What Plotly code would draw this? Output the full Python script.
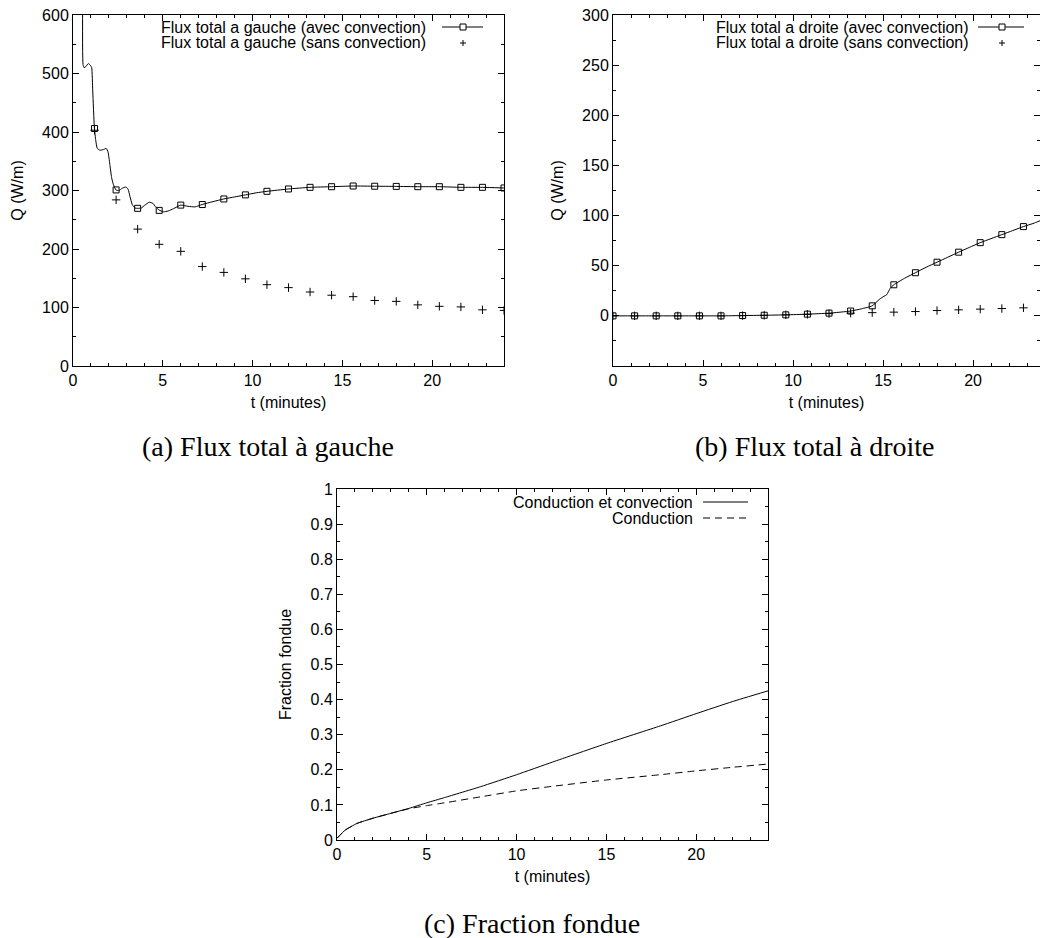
import plotly.graph_objects as go

# ---------------- data ----------------
# (a) Flux total a gauche, avec convection: continuous curve
t_left_curve = [0.54, 0.56, 0.62, 0.72, 0.85, 0.97, 1.04, 1.10, 1.19, 1.27, 1.35, 1.5, 1.7, 1.85,
                1.95, 2.05, 2.15, 2.25, 2.39, 2.55, 2.75, 2.95, 3.07, 3.17, 3.3, 3.45, 3.6, 3.8,
                4.0, 4.25, 4.45, 4.6, 4.79, 5.03, 5.3, 5.6, 6.0, 6.4, 6.8, 7.18, 7.8, 8.39, 9.0,
                9.6, 10.2, 10.8, 12.0, 13.2, 14.4, 15.6, 16.8, 18.0, 19.2, 20.4, 21.6, 22.8, 24.0]
q_left_curve = [650, 515, 510, 512, 517, 514, 510, 470, 407, 385, 372, 369, 370, 372,
                366, 345, 322, 310, 301, 300, 304, 306, 302, 290, 276, 270, 269.5, 270,
                275, 280, 278, 272, 266.7, 263.5, 265, 269, 275, 273, 272, 276, 281, 285.5, 289,
                292.5, 296, 298.6, 302.6, 305.4, 306.5, 307.7, 307.3, 307, 306.5, 306.5, 305.4, 305.4, 304.3]
# sample points (markers)
t_left_marks = [1.2, 2.4, 3.6, 4.8, 6.0, 7.2, 8.4, 9.6, 10.8, 12.0, 13.2, 14.4, 15.6, 16.8,
                18.0, 19.2, 20.4, 21.6, 22.8, 24.0]
q_left_avec = [406, 301, 269.5, 266, 275, 276, 285.5, 292.5, 298.6, 302.6, 305.4, 306.5, 307.7,
               307.3, 307, 306.5, 306.5, 305.4, 305.4, 304.3]
q_left_sans = [403, 284, 234, 208, 196, 170, 160, 149, 139, 134, 126.5, 121, 118.5, 112,
               110.5, 104.5, 102, 101, 96, 95]

# (b) Flux total a droite
t_right_curve = [0, 1.2, 2.4, 3.6, 4.8, 6.0, 7.2, 8.4, 9.6, 10.8, 12.0, 13.2, 13.8, 14.4, 14.8,
                 15.05, 15.2, 15.4, 15.6, 16.2, 16.8, 17.4, 18.0, 18.6, 19.2, 19.8, 20.4, 21.0,
                 21.6, 22.2, 22.8, 23.4, 24.0]
q_right_curve = [0, 0, 0, 0, 0, 0, 0.3, 0.6, 1.0, 1.7, 2.7, 4.8, 7, 10, 16.5,
                 19.5, 21, 27.5, 31, 37.5, 43, 48.5, 53.5, 58.5, 63.5, 68.3, 73, 77,
                 81, 85, 89, 92.5, 97]
t_right_marks = [0, 1.2, 2.4, 3.6, 4.8, 6.0, 7.2, 8.4, 9.6, 10.8, 12.0, 13.2, 14.4, 15.6, 16.8,
                 18.0, 19.2, 20.4, 21.6, 22.8, 24.0]
q_right_avec = [0, 0, 0, 0, 0, 0, 0.3, 0.6, 1.0, 1.7, 2.7, 4.8, 10, 31, 43,
                53.5, 63.5, 73, 81, 89, 97]
q_right_sans = [0, 0, 0, 0, 0, 0, 0.2, 0.5, 1.0, 1.5, 2.2, 2.7, 3.2, 3.7, 4.3,
                5.3, 6.0, 6.7, 7.3, 8.0, 8.6]

# (c) Fraction fondue
t_frac = [0, 0.45, 1.1, 2, 3, 4, 5, 6, 8, 10, 12, 15, 18, 20, 22, 24]
frac_conv = [0.005, 0.028, 0.047, 0.062, 0.076, 0.090, 0.106, 0.121, 0.152, 0.186, 0.222,
             0.275, 0.325, 0.360, 0.394, 0.425]
frac_cond = [0.005, 0.028, 0.047, 0.062, 0.076, 0.089, 0.098, 0.106, 0.123, 0.140, 0.153,
             0.171, 0.186, 0.197, 0.207, 0.2165]

# ---------------- figure ----------------
W, H = 1040, 938
FONT = "Liberation Sans, Arial, Helvetica, sans-serif"
SERIF = "Liberation Serif, Times New Roman, serif"


def px(x):
    return x / W


def py(y):
    return 1 - y / H


fig = go.Figure()

sq = dict(symbol="square-open", size=6, color="black", line=dict(width=1, color="black"))
plus = dict(symbol="cross-thin", size=6, color="black", line=dict(width=1, color="black"))

# (a)
fig.add_trace(go.Scatter(x=t_left_curve, y=q_left_curve, mode="lines",
                         line=dict(color="black", width=1, shape="spline", smoothing=0.5),
                         xaxis="x", yaxis="y", showlegend=False, name="Flux total a gauche (avec convection)"))
fig.add_trace(go.Scatter(x=t_left_marks, y=q_left_avec, mode="markers", marker=sq,
                         xaxis="x", yaxis="y", showlegend=False))
fig.add_trace(go.Scatter(x=t_left_marks, y=q_left_sans, mode="markers", marker=plus,
                         xaxis="x", yaxis="y", showlegend=False, name="Flux total a gauche (sans convection)"))
# (b)
fig.add_trace(go.Scatter(x=t_right_curve, y=q_right_curve, mode="lines",
                         line=dict(color="black", width=1, shape="spline", smoothing=0.5),
                         xaxis="x2", yaxis="y2", showlegend=False, name="Flux total a droite (avec convection)"))
fig.add_trace(go.Scatter(x=t_right_marks, y=q_right_avec, mode="markers", marker=sq,
                         xaxis="x2", yaxis="y2", showlegend=False))
fig.add_trace(go.Scatter(x=t_right_marks, y=q_right_sans, mode="markers", marker=plus,
                         xaxis="x2", yaxis="y2", showlegend=False, name="Flux total a droite (sans convection)"))
# (c)
fig.add_trace(go.Scatter(x=t_frac, y=frac_conv, mode="lines",
                         line=dict(color="black", width=1, shape="spline", smoothing=0.4),
                         xaxis="x3", yaxis="y3", showlegend=False, name="Conduction et convection"))
fig.add_trace(go.Scatter(x=t_frac, y=frac_cond, mode="lines",
                         line=dict(color="black", width=1, shape="spline", smoothing=0.4, dash="7px,5px"),
                         xaxis="x3", yaxis="y3", showlegend=False, name="Conduction"))


def axis(domain, rng, minor_dtick, anchor, title, standoff, tickvals, ticktext=None):
    d = dict(domain=domain, range=rng, anchor=anchor, showline=True, linecolor="black", linewidth=1,
             mirror="allticks", ticks="inside", ticklen=6, tickcolor="black", tickwidth=1,
             showgrid=False, zeroline=False, automargin=False,
             tickfont=dict(family=FONT, size=16, color="black"),
             minor=dict(ticks="inside", ticklen=3, tickcolor="black", dtick=minor_dtick, tick0=0,
                        showgrid=False),
             title=dict(text=title, font=dict(family=FONT, size=16, color="black"), standoff=standoff),
             tickmode="array", tickvals=tickvals)
    if ticktext is not None:
        d["ticktext"] = ticktext
    return d


xvals = [0, 5, 10, 15, 20]
fig.update_layout(
    xaxis=axis([px(73), px(504)], [0, 24], 1, "y", "t (minutes)", 8, xvals),
    yaxis=axis([py(366), py(15)], [0, 600], 50, "x", "Q (W/m)", 14,
               [0, 100, 200, 300, 400, 500, 600]),
    xaxis2=axis([px(613), 1.0], [0, 23.72], 1, "y2", "t (minutes)", 8, xvals),
    yaxis2=axis([py(366), py(15)], [-50, 300], 25, "x2", "Q (W/m)", 14,
                [0, 50, 100, 150, 200, 250, 300]),
    xaxis3=axis([px(337), px(768)], [0, 24], 1, "y3", "t (minutes)", 8, xvals),
    yaxis3=axis([py(840), py(489)], [0, 1], 0.05, "x3", "Fraction fondue", 14,
                [0, 0.1, 0.2, 0.3, 0.4, 0.5, 0.6, 0.7, 0.8, 0.9, 1],
                ["0", "0.1", "0.2", "0.3", "0.4", "0.5", "0.6", "0.7", "0.8", "0.9", "1"]),
)

annotations = []
shapes = []


def legend_text(x_right, y, text):
    annotations.append(dict(xref="paper", yref="paper", x=px(x_right), y=py(y), text=text,
                            showarrow=False, xanchor="right", yanchor="middle",
                            font=dict(family=FONT, size=16, color="black")))


def legend_line(x0, x1, y, dash="solid"):
    shapes.append(dict(type="line", xref="paper", yref="paper", x0=px(x0), x1=px(x1), y0=py(y), y1=py(y),
                       line=dict(color="black", width=1, dash=dash)))


def legend_square(xc, yc, s=3):
    shapes.append(dict(type="rect", xref="paper", yref="paper", x0=px(xc - s), x1=px(xc + s),
                       y0=py(yc + s), y1=py(yc - s), line=dict(color="black", width=1), fillcolor="white"))


def legend_plus(xc, yc, s=3):
    shapes.append(dict(type="line", xref="paper", yref="paper", x0=px(xc - s), x1=px(xc + s),
                       y0=py(yc), y1=py(yc), line=dict(color="black", width=1)))
    shapes.append(dict(type="line", xref="paper", yref="paper", x0=px(xc), x1=px(xc),
                       y0=py(yc - s), y1=py(yc + s), line=dict(color="black", width=1)))


# legend (a)
legend_text(428, 27, "Flux total a gauche (avec convection)")
legend_text(428, 43, "Flux total a gauche (sans convection)")
legend_line(442, 483, 27)
legend_square(463, 27)
legend_plus(463, 43)
# legend (b)
legend_text(971, 27, "Flux total a droite (avec convection)")
legend_text(971, 43, "Flux total a droite (sans convection)")
legend_line(978, 1024, 27)
legend_square(1002, 27)
legend_plus(1002, 43)
# legend (c)
legend_text(695, 502, "Conduction et convection")
legend_text(695, 518, "Conduction")
legend_line(703, 748, 502)
legend_line(703, 748, 518, dash="7px,5px")

# captions
for xc, yc, txt in [(268, 446, "(a) Flux total à gauche"),
                    (815, 446, "(b) Flux total à droite"),
                    (532, 923, "(c) Fraction fondue")]:
    annotations.append(dict(xref="paper", yref="paper", x=px(xc), y=py(yc), text=txt, showarrow=False,
                            xanchor="center", yanchor="middle",
                            font=dict(family=SERIF, size=28, color="black")))

fig.update_layout(
    width=W, height=H, margin=dict(l=0, r=0, t=0, b=0, pad=0, autoexpand=False),
    paper_bgcolor="white", plot_bgcolor="white", showlegend=False,
    annotations=annotations, shapes=shapes,
    font=dict(family=FONT, size=16, color="black"),
)

fig.write_html("out.html", config={"displayModeBar": False},
               post_script="document.body.style.margin='0px';document.body.style.overflow='hidden';")
